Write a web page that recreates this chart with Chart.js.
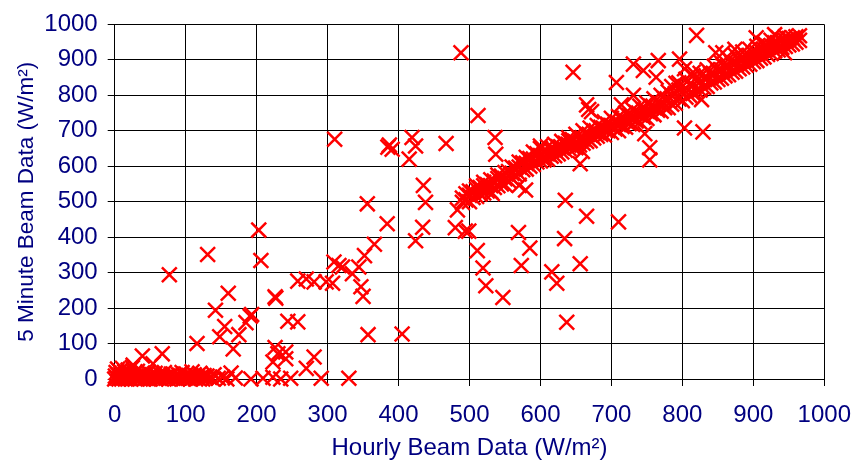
<!DOCTYPE html>
<html>
<head>
<meta charset="utf-8">
<script src="https://cdn.jsdelivr.net/npm/chart.js@4.4.1/dist/chart.umd.min.js"></script>
<style>
  body { margin: 0; background: #fff; }
  canvas { display: block; }
</style>
</head>
<body>
<canvas id="chart" width="866" height="464"></canvas>
<script>
// [hourly, 5 minute] pairs, W/m2
const lowCluster = [
  [0,0],[1,8],[2,18],[3,3],[4,28],[5,12],[6,0],[7,22],[8,6],[9,15],[10,0],[11,30],[12,10],[13,4],
  [14,20],[15,0],[16,14],[18,8],[19,25],[20,2],[21,16],[23,0],[24,10],[25,32],[26,5],[26,39],[28,18],
  [29,0],[30,8],[32,22],[33,2],[35,12],[36,0],[38,6],[39,65],[40,16],[41,0],[43,10],[45,2],[47,20],
  [48,5],[50,0],[52,12],[54,43],[55,4],[57,16],[58,0],[60,8],[62,2],[64,14],[66,0],[67,71],[68,6],
  [70,18],[72,2],[74,10],[76,0],[78,6],[80,14],[82,2],[85,8],[88,0],[90,12],[92,4],[95,18],[97,0],
  [99,6],[101,14],[103,2],[105,10],[107,0],[109,20],[110,5],[112,12],[114,0],[116,8],[118,2],
  [120,16],[122,6],[124,0],[126,10],[128,3],[130,8],[134,5],[138,0],[140,12],[146,2],[152,5],
  [158,0],[164,17],[170,3]
];
const leftScatter = [
  [77,294],[116,100],[131,351],[142,194],[148,119],[155,148],[160,242],[167,85],[175,125],[185,159],
  [191,177],[193,182],[203,420],[206,334],[192,0],[209,2],[223,5],[223,48],[226,89],[230,71],
  [227,228],[226,232],[234,0],[241,57],[241,76],[244,163],[248,2],[258,161],[258,276],[270,30],
  [270,282],[281,62],[281,274],[291,2],[298,274],[307,270],[309,330],[310,676],[316,320],[321,316],
  [330,2],[335,297],[344,316],[347,260],[350,233],[352,348],[356,494],[357,125],[366,380],[384,438],
  [385,654],[387,660],[391,648],[405,127],[415,620],[419,681],[424,657],[424,390],[434,428],
  [435,546],[438,498],[467,664]
];
const midScatter = [
  [480,427],[483,477],[488,920],[494,417],[499,417],[511,362],[512,743],[519,313],[523,263],
  [532,523],[536,681],[537,634],[547,230],[569,413],[570,546],[573,320],[579,533],[585,369],
  [600,657],[605,622],[616,302],[623,270],[634,396],[635,504],[637,160],[646,865],[656,325],
  [656,607],[665,459],[710,443]
];
const upperScatter = [
  [640,672],[650,655],[659,642],[665,773],[668,760],[672,754],[707,836],[714,773],[731,800],
  [731,888],[745,870],[747,692],[754,652],[754,618],[763,851],[766,898],[791,834],[796,902],
  [803,708],[803,875],[815,865],[820,969],[827,788],[829,697],[847,920],[857,920],[874,930],
  [904,962],[930,971],[944,920]
];
const diagonalBand = [
  [490,498],[490,510],[495,505],[495,522],[500,500],[500,518],[500,530],[505,512],[505,528],
  [510,515],[510,535],[510,545],[515,522],[515,540],[520,525],[520,545],[520,555],[525,530],
  [525,548],[530,528],[530,545],[530,562],[535,540],[535,558],[540,545],[540,565],[540,575],
  [545,550],[545,572],[550,548],[550,565],[550,582],[555,560],[555,585],[560,565],[560,580],
  [560,598],[565,575],[565,595],[570,578],[570,598],[570,612],[575,590],[575,610],[580,592],
  [580,608],[580,625],[585,600],[585,622],[590,605],[590,620],[590,640],[595,612],[595,635],
  [600,615],[600,630],[600,650],[605,618],[605,640],[610,620],[610,635],[610,655],[615,628],
  [615,648],[620,630],[620,645],[620,662],[625,635],[625,655],[630,640],[630,652],[630,670],
  [635,645],[635,665],[640,650],[640,660],[640,680],[645,655],[645,675],[650,652],[650,668],
  [650,690],[655,660],[655,680],[660,665],[660,678],[660,700],[665,670],[665,690],[670,672],
  [670,688],[670,708],[675,680],[675,700],[680,685],[680,695],[680,715],[685,690],[685,710],
  [690,688],[690,705],[690,725],[695,700],[695,718],[700,695],[700,715],[700,735],[705,705],
  [705,725],[710,700],[710,718],[710,740],[715,712],[715,735],[720,710],[720,728],[720,750],
  [725,720],[725,742],[730,718],[730,735],[730,760],[735,728],[735,752],[740,725],[740,745],
  [740,770],[745,738],[745,760],[750,735],[750,755],[750,778],[755,748],[755,770],[760,745],
  [760,765],[760,790],[765,758],[765,780],[770,755],[770,775],[770,800],[775,765],[775,790],
  [780,765],[780,785],[780,810],[785,775],[785,800],[785,825],[790,778],[790,805],[795,790],
  [795,815],[795,835],[800,785],[800,810],[805,795],[805,820],[805,845],[810,800],[810,830],
  [815,805],[815,828],[815,855],[820,812],[820,840],[825,815],[825,838],[825,862],[830,822],
  [830,848],[835,825],[835,850],[835,872],[840,835],[840,860],[845,838],[845,860],[845,882],
  [850,845],[850,870],[855,848],[855,872],[855,892],[860,855],[860,880],[865,858],[865,882],
  [865,902],[870,865],[870,890],[875,868],[875,892],[875,912],[880,875],[880,900],[885,880],
  [885,902],[885,922],[890,885],[890,910],[895,888],[895,912],[895,930],[900,895],[900,918],
  [905,898],[905,920],[905,938],[910,905],[910,928],[915,908],[915,930],[915,948],[920,915],
  [920,938],[925,918],[925,940],[925,955],[930,925],[930,948],[935,928],[935,948],[935,962],
  [940,935],[940,955],[945,938],[945,955],[945,965],[950,942],[950,960],[955,945],[955,962],
  [960,950],[960,965],[965,955],[965,968]
];

const axisTicks = [0,100,200,300,400,500,600,700,800,900,1000];

const points = [].concat(lowCluster, leftScatter, midScatter, upperScatter, diagonalBand)
  .map(p => ({ x: p[0], y: p[1] }));

const navy = '#000080';
const family = '"Liberation Sans", Arial, sans-serif';
const font = { family: family, size: 24 };

new Chart(document.getElementById('chart').getContext('2d'), {
  type: 'scatter',
  data: {
    datasets: [{
      data: points,
      pointStyle: 'crossRot',
      pointRadius: 10.5,
      pointHoverRadius: 10.5,
      borderColor: '#ff0000',
      backgroundColor: '#ff0000',
      borderWidth: 2.5,
      clip: false
    }]
  },
  options: {
    responsive: false,
    animation: false,
    events: [],
    layout: { autoPadding: false, padding: { top: 18, right: 39, bottom: 0, left: 0 } },
    plugins: { legend: { display: false }, tooltip: { enabled: false } },
    scales: {
      x: {
        type: 'linear',
        min: 0, max: 1000,
        afterBuildTicks: s => { s.ticks = axisTicks.map(v => ({ value: v })); },
        afterFit: s => { s.height = 85; },
        grid: { color: '#000', lineWidth: 1, tickLength: 7 },
        border: { color: '#000', width: 1 },
        ticks: { color: navy, font: font, padding: 15, maxRotation: 0, autoSkip: false,
                 callback: v => String(v) },
        title: {
          display: true,
          text: 'Hourly Beam Data (W/m\u00B2)',
          color: navy, font: font,
          padding: { top: 0, bottom: 1 }
        }
      },
      y: {
        type: 'linear',
        min: 0, max: 1000,
        afterBuildTicks: s => { s.ticks = axisTicks.map(v => ({ value: v })); },
        afterFit: s => { s.width = 114.7; },
        grid: { color: '#000', lineWidth: 1, tickLength: 7 },
        border: { color: '#000', width: 1 },
        ticks: { color: navy, font: font, padding: 10, autoSkip: false,
                 callback: v => String(v) },
        title: {
          display: true,
          text: '5 Minute Beam Data (W/m\u00B2)',
          color: navy, font: { family: family, size: 22.5 },
          padding: { top: 13, bottom: 0 }
        }
      }
    }
  }
});
</script>
</body>
</html>
